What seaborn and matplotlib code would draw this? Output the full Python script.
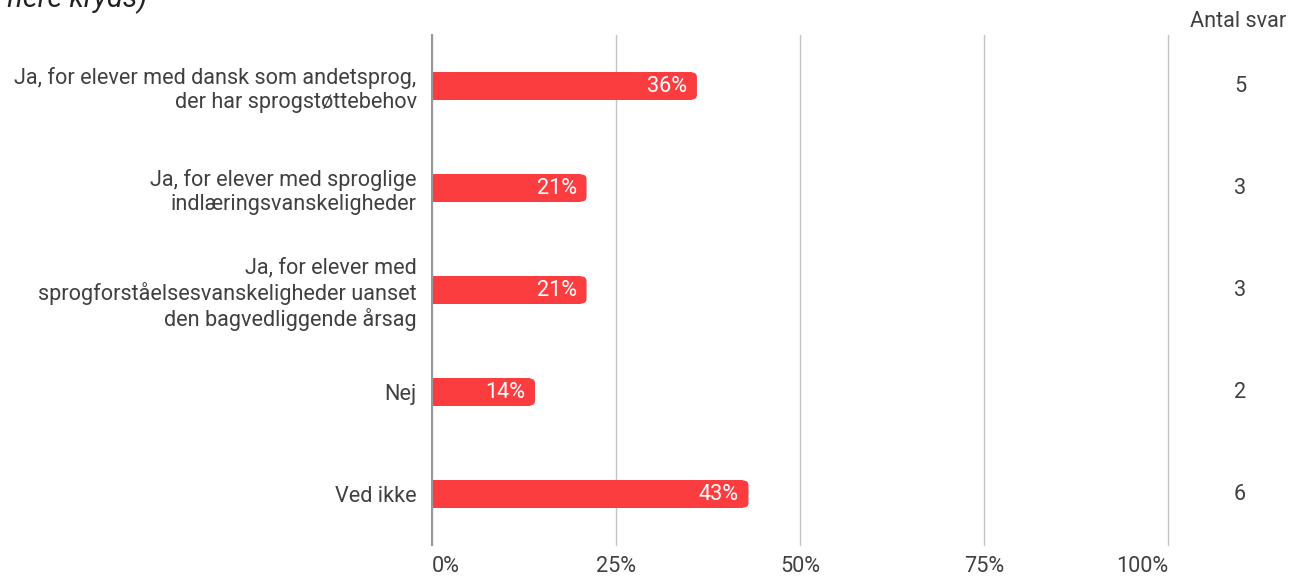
import matplotlib
matplotlib.use('Agg')
import matplotlib.pyplot as plt
from matplotlib.patches import FancyBboxPatch
import pandas as pd
import seaborn as sns

# Data
kategorier = [
    'Ja, for elever med dansk som andetsprog,\nder har sprogstøttebehov',
    'Ja, for elever med sproglige\nindlæringsvanskeligheder',
    'Ja, for elever med\nsprogforståelsesvanskeligheder uanset\nden bagvedliggende årsag',
    'Nej',
    'Ved ikke',
]
procent = [36, 21, 21, 14, 43]
antal_svar = [5, 3, 3, 2, 6]
x_ticks = [0, 25, 50, 75, 100]

df = pd.DataFrame({'Kategori': kategorier, 'Procent': procent, 'Antal': antal_svar})

sns.set_style('white')
plt.rcParams['font.family'] = ['Roboto', 'DejaVu Sans']

rod = '#fc3d40'
tekst = '#404040'
fs = 15.6

fig = plt.figure(figsize=(12.9, 5.78), dpi=100)
ax = fig.add_axes([432 / 1290, 33 / 578, 736 / 1290, 510 / 578])

bar_h = 0.265
sns.barplot(data=df, x='Procent', y='Kategori', color=rod, width=bar_h,
            saturation=1, ax=ax, zorder=3)

# afrundede ender paa bjaelkerne
r = 0.7
for p in list(ax.patches):
    x0, y0 = p.get_x(), p.get_y()
    w, h = p.get_width(), p.get_height()
    p.set_width(w - r)
    p.set_edgecolor('none')
    ax.add_patch(FancyBboxPatch((x0, y0), w, h,
                                boxstyle=f'round,pad=0,rounding_size={r}',
                                mutation_aspect=0.0475 / r,
                                facecolor=rod, edgecolor='none', zorder=3))

ax.set_xlim(0, 100)
ax.set_ylim(4.5, -0.5)
ax.set_xticks(x_ticks)
ax.set_xticklabels([f'{t}%' for t in x_ticks])
ax.set_xlabel('')
ax.set_ylabel('')
ax.tick_params(axis='x', length=0, pad=8, labelsize=fs, labelcolor=tekst)
ax.tick_params(axis='y', length=0, pad=11, labelsize=fs, labelcolor=tekst)
xlabs = ax.get_xticklabels()
xlabs[0].set_horizontalalignment('left')
xlabs[-1].set_horizontalalignment('right')
for lab in ax.get_yticklabels():
    lab.set_linespacing(1.17)

ax.grid(axis='x', color='#c4c4c4', linewidth=1, zorder=0)
ax.grid(axis='y', visible=False)
for line in ax.get_xgridlines():
    line.set_clip_on(False)
for s in ['top', 'right', 'bottom']:
    ax.spines[s].set_visible(False)
ax.spines['left'].set_color('#999999')
ax.spines['left'].set_linewidth(1.5)
ax.spines['left'].set_zorder(4)

# procent-etiketter i bjaelkerne
for i, v in enumerate(procent):
    ax.annotate(f'{v}%', xy=(v, i), xytext=(-7, 0), textcoords='offset points',
                ha='right', va='center', color='white', fontsize=fs, zorder=5)

# antal svar i hoejre side
trans = ax.get_yaxis_transform()
for i, n in enumerate(antal_svar):
    ax.text(1.098, i, str(n), transform=trans, ha='center', va='center',
            color=tekst, fontsize=fs)
ax.text(1.095, 1.0255, 'Antal svar', transform=ax.transAxes, ha='center',
        va='center', color=tekst, fontsize=fs)

# afskaaret titel oeverst
fig.text(0.005, 1 - 7 / 578, 'flere kryds)', ha='left', va='baseline',
         fontsize=21, style='italic', color='#222222')

fig.savefig('out.png', dpi=100)
